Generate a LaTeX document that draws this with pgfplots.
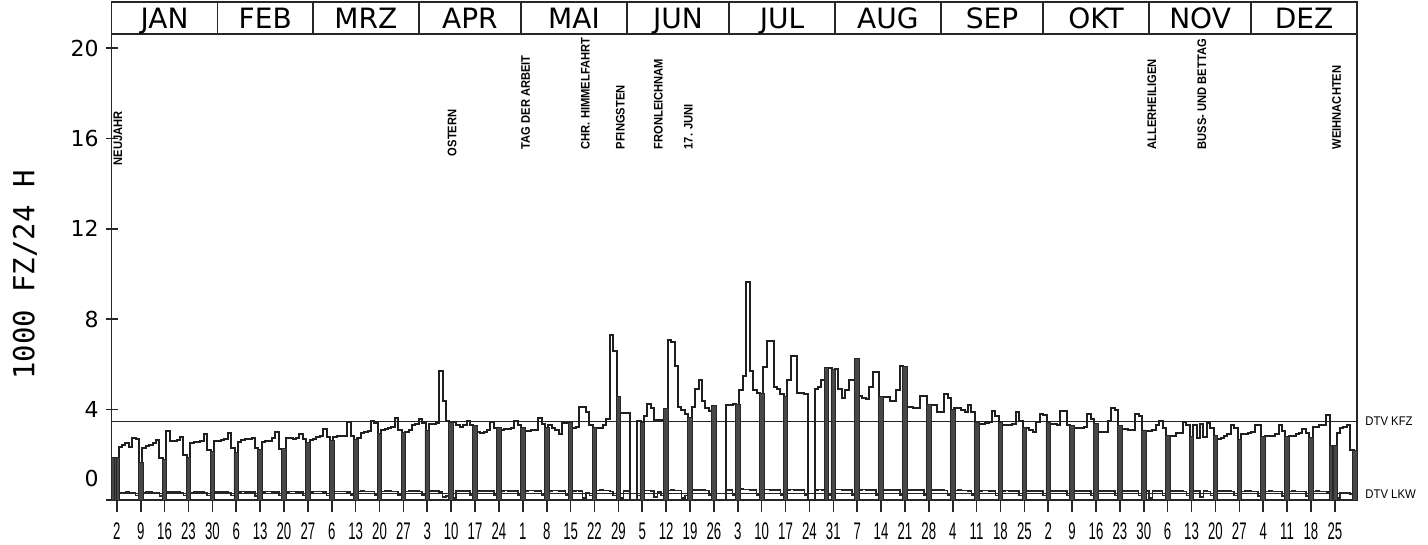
\documentclass[border=0pt]{standalone}
\usepackage{pgfplots}
\usepackage{pgfplotstable}
\pgfplotsset{compat=1.18}
\usepackage{fontspec}
\setmainfont{DejaVu Sans}
\newfontfamily\narrowfont[FakeStretch=0.55]{Liberation Sans}
\newfontfamily\holfont[FakeStretch=0.9]{Liberation Sans}
\newfontfamily\monofont{DejaVu Sans Mono}

\pgfplotstableread[row sep=\\]{
d kfz lkw\\
0.5 0 0.05\\ 1 0 0.05\\ 2 0 0.03\\
3 2.35 0.32\\ 4 2.45 0.34\\ 5 2.5 0.35\\ 6 2.35 0.34\\ 7 2.75 0.33\\ 8 2.7 0.2\\ 9 0 0.03\\
10 2.3 0.33\\ 11 2.4 0.35\\ 12 2.45 0.35\\ 13 2.5 0.34\\ 14 2.65 0.33\\ 15 1.85 0.18\\ 16 0 0.03\\
17 3.05 0.35\\ 18 2.6 0.36\\ 19 2.6 0.35\\ 20 2.65 0.35\\ 21 2.8 0.34\\ 22 2.0 0.2\\ 23 0 0.03\\
24 2.5 0.34\\ 25 2.55 0.36\\ 26 2.55 0.36\\ 27 2.6 0.35\\ 28 2.9 0.34\\ 29 2.2 0.2\\ 30 0 0.03\\
31 2.6 0.35\\ 32 2.6 0.36\\ 33 2.65 0.36\\ 34 2.7 0.36\\ 35 2.95 0.34\\ 36 2.3 0.2\\ 37 0 0.03\\
38 2.55 0.35\\ 39 2.65 0.37\\ 40 2.7 0.36\\ 41 2.7 0.36\\ 42 2.75 0.35\\ 43 2.3 0.19\\ 44 0 0.03\\
45 2.55 0.36\\ 46 2.6 0.37\\ 47 2.6 0.37\\ 48 2.75 0.36\\ 49 3.0 0.35\\ 50 2.25 0.2\\ 51 0 0.03\\
52 2.75 0.36\\ 53 2.75 0.37\\ 54 2.7 0.37\\ 55 2.75 0.36\\ 56 2.9 0.35\\ 57 2.7 0.2\\ 58 0 0.03\\
59 2.65 0.36\\ 60 2.7 0.37\\ 61 2.8 0.38\\ 62 2.85 0.37\\ 63 3.15 0.36\\ 64 2.8 0.2\\ 65 0 0.03\\
66 2.8 0.37\\ 67 2.85 0.38\\ 68 2.85 0.38\\ 69 2.85 0.37\\ 70 3.45 0.36\\ 71 2.85 0.21\\ 72 0 0.03\\
73 2.75 0.37\\ 74 2.95 0.39\\ 75 3.0 0.38\\ 76 3.05 0.38\\ 77 3.5 0.37\\ 78 3.4 0.21\\ 79 0 0.03\\
80 3.1 0.38\\ 81 3.15 0.39\\ 82 3.2 0.39\\ 83 3.25 0.38\\ 84 3.65 0.37\\ 85 3.1 0.21\\ 86 0 0.03\\
87 3.0 0.38\\ 88 3.1 0.4\\ 89 3.3 0.4\\ 90 3.35 0.39\\ 91 3.6 0.38\\ 92 3.4 0.22\\ 93 0 0.03\\
94 3.35 0.39\\ 95 3.35 0.4\\ 96 3.4 0.4\\ 97 5.7 0.36\\ 98 4.4 0.12\\ 99 3.5 0.18\\ 100 0 0.03\\
101 3.45 0.1\\ 102 3.3 0.41\\ 103 3.25 0.41\\ 104 3.3 0.4\\ 105 3.5 0.39\\ 106 3.3 0.22\\ 107 0 0.03\\
108 3.0 0.4\\ 109 2.95 0.41\\ 110 3.0 0.41\\ 111 3.1 0.4\\ 112 3.45 0.39\\ 113 3.2 0.22\\ 114 0 0.03\\
115 3.1 0.4\\ 116 3.15 0.42\\ 117 3.15 0.41\\ 118 3.2 0.41\\ 119 3.5 0.39\\ 120 3.3 0.22\\ 121 0 0.03\\
122 3.05 0.41\\ 123 3.05 0.42\\ 124 3.1 0.42\\ 125 3.1 0.41\\ 126 3.65 0.4\\ 127 3.35 0.22\\ 128 0 0.03\\
129 3.3 0.41\\ 130 3.2 0.42\\ 131 3.1 0.42\\ 132 2.9 0.41\\ 133 3.4 0.4\\ 134 3.4 0.22\\ 135 0 0.03\\
136 3.2 0.41\\ 137 3.25 0.42\\ 138 4.1 0.4\\ 139 4.1 0.1\\ 140 3.9 0.3\\ 141 3.3 0.2\\ 142 0 0.03\\
143 3.2 0.42\\ 144 3.2 0.43\\ 145 3.3 0.42\\ 146 3.6 0.42\\ 147 7.3 0.38\\ 148 6.6 0.2\\ 149 0 0.03\\
150 3.85 0.1\\ 151 3.85 0.4\\ 152 3.85 0.41\\ 153 0 0\\ 154 0 0\\ 155 3.5 0.2\\ 156 0 0.03\\
157 3.7 0.42\\ 158 4.25 0.42\\ 159 4.05 0.41\\ 160 3.55 0.12\\ 161 3.55 0.35\\ 162 3.55 0.2\\ 163 0 0.03\\
164 7.1 0.42\\ 165 7.0 0.43\\ 166 5.95 0.42\\ 167 4.1 0.42\\ 168 4.0 0.1\\ 169 3.8 0.2\\ 170 0 0.03\\
171 4.1 0.43\\ 172 4.9 0.44\\ 173 5.3 0.43\\ 174 4.4 0.43\\ 175 4.05 0.42\\ 176 3.95 0.22\\ 177 0 0.03\\
178 0 0\\ 179 0 0\\ 180 0 0\\ 181 4.2 0.44\\ 182 4.2 0.43\\ 183 4.25 0.22\\ 184 0 0.03\\
185 4.85 0.48\\ 186 5.5 0.47\\ 187 9.65 0.46\\ 188 5.7 0.45\\ 189 4.85 0.44\\ 190 4.75 0.23\\ 191 0 0.03\\
192 5.9 0.46\\ 193 7.05 0.46\\ 194 7.05 0.45\\ 195 5.0 0.45\\ 196 4.9 0.44\\ 197 4.7 0.23\\ 198 0 0.03\\
199 5.3 0.45\\ 200 6.35 0.46\\ 201 6.35 0.45\\ 202 4.75 0.45\\ 203 4.75 0.44\\ 204 4.7 0.22\\ 205 0 0.03\\
206 0 0\\ 207 4.9 0.45\\ 208 5.0 0.46\\ 209 5.3 0.45\\ 210 0 0.44\\ 211 5.85 0.22\\ 212 0 0.03\\
213 5.8 0.46\\ 214 4.9 0.46\\ 215 4.5 0.45\\ 216 4.85 0.45\\ 217 5.3 0.44\\ 218 5.3 0.22\\ 219 0 0.03\\
220 4.6 0.45\\ 221 4.5 0.46\\ 222 4.45 0.45\\ 223 5.0 0.45\\ 224 5.65 0.44\\ 225 5.65 0.22\\ 226 0 0.03\\
227 4.55 0.45\\ 228 4.55 0.45\\ 229 4.4 0.45\\ 230 4.4 0.44\\ 231 4.85 0.43\\ 232 5.95 0.22\\ 233 0 0.03\\
234 4.1 0.44\\ 235 4.1 0.45\\ 236 4.05 0.44\\ 237 4.05 0.44\\ 238 4.6 0.43\\ 239 4.6 0.21\\ 240 0 0.03\\
241 4.2 0.43\\ 242 4.2 0.44\\ 243 3.9 0.43\\ 244 3.9 0.43\\ 245 4.7 0.42\\ 246 4.5 0.21\\ 247 0 0.03\\
248 4.05 0.42\\ 249 4.05 0.43\\ 250 4.0 0.42\\ 251 3.9 0.42\\ 252 4.2 0.41\\ 253 3.9 0.21\\ 254 0 0.03\\
255 3.35 0.41\\ 256 3.35 0.42\\ 257 3.4 0.42\\ 258 3.45 0.41\\ 259 3.95 0.4\\ 260 3.7 0.2\\ 261 0 0.03\\
262 3.3 0.41\\ 263 3.3 0.42\\ 264 3.3 0.41\\ 265 3.35 0.41\\ 266 3.9 0.4\\ 267 3.5 0.2\\ 268 0 0.03\\
269 3.2 0.4\\ 270 3.1 0.41\\ 271 3.0 0.41\\ 272 3.45 0.4\\ 273 3.8 0.39\\ 274 3.75 0.2\\ 275 0 0.03\\
276 3.35 0.4\\ 277 3.35 0.41\\ 278 3.3 0.4\\ 279 3.95 0.4\\ 280 3.95 0.39\\ 281 3.3 0.2\\ 282 0 0.03\\
283 3.2 0.4\\ 284 3.2 0.41\\ 285 3.2 0.4\\ 286 3.25 0.4\\ 287 3.8 0.39\\ 288 3.6 0.2\\ 289 0 0.03\\
290 3.0 0.4\\ 291 3.0 0.41\\ 292 3.0 0.4\\ 293 3.5 0.4\\ 294 4.05 0.39\\ 295 4.0 0.2\\ 296 0 0.03\\
297 3.15 0.4\\ 298 3.15 0.41\\ 299 3.1 0.4\\ 300 3.1 0.4\\ 301 3.8 0.39\\ 302 3.7 0.2\\ 303 0 0.03\\
304 3.05 0.4\\ 305 3.05 0.1\\ 306 3.1 0.4\\ 307 3.3 0.4\\ 308 3.5 0.39\\ 309 3.2 0.2\\ 310 0 0.03\\
311 2.85 0.39\\ 312 2.85 0.4\\ 313 2.95 0.4\\ 314 2.95 0.39\\ 315 3.45 0.38\\ 316 3.3 0.2\\ 317 0 0.03\\
318 3.3 0.39\\ 319 2.75 0.4\\ 320 3.35 0.12\\ 321 2.8 0.39\\ 322 3.4 0.38\\ 323 3.2 0.2\\ 324 0 0.03\\
325 2.7 0.39\\ 326 2.75 0.4\\ 327 2.85 0.39\\ 328 2.9 0.39\\ 329 3.3 0.38\\ 330 3.2 0.2\\ 331 0 0.03\\
332 2.9 0.38\\ 333 2.9 0.39\\ 334 2.95 0.39\\ 335 3.0 0.38\\ 336 3.3 0.37\\ 337 3.3 0.19\\ 338 0 0.03\\
339 2.85 0.38\\ 340 2.85 0.39\\ 341 2.85 0.38\\ 342 2.9 0.38\\ 343 3.3 0.37\\ 344 3.05 0.19\\ 345 0 0.03\\
346 2.85 0.38\\ 347 2.85 0.39\\ 348 2.9 0.38\\ 349 2.95 0.38\\ 350 3.15 0.37\\ 351 2.95 0.19\\ 352 0 0.03\\
353 3.25 0.38\\ 354 3.25 0.39\\ 355 3.3 0.38\\ 356 3.3 0.37\\ 357 3.75 0.35\\ 358 0 0.1\\ 359 0 0.03\\
360 2.95 0.08\\ 361 3.2 0.3\\ 362 3.25 0.32\\ 363 3.3 0.3\\ 364 2.2 0.25\\ 365 0 0.08\\ 365.5 0 0.08\\
}\daily

\pgfplotstableread[row sep=\\]{
d v\\
1.15 1.9\\ 2 1.9\\ 9 1.65\\ 16 1.8\\ 23 1.9\\ 30 2.15\\ 37 2.1\\ 44 2.25\\ 51 2.3\\ 58 2.55\\
65 2.65\\ 72 2.7\\ 79 2.95\\ 86 3.0\\ 93 3.1\\ 100 3.45\\ 107 3.3\\ 114 3.2\\ 121 3.2\\ 128 3.2\\
135 3.45\\ 142 3.2\\ 149 4.6\\ 156 3.45\\ 163 4.05\\ 170 3.65\\ 177 4.2\\ 184 4.25\\ 191 4.7\\ 198 4.6\\
210 5.85\\ 212 5.8\\ 219 6.25\\ 226 4.6\\ 233 5.9\\ 240 4.25\\ 247 4.0\\ 254 3.45\\ 261 3.45\\ 268 3.2\\
275 3.45\\ 282 3.3\\ 289 3.4\\ 296 3.3\\ 303 3.1\\ 310 2.85\\ 317 2.8\\ 324 2.85\\ 331 2.7\\ 338 2.8\\
345 2.8\\ 352 2.75\\ 358 2.4\\ 359 2.4\\ 364.85 2.2\\
}\sundays

\begin{document}
\begin{tikzpicture}
\useasboundingbox (-55.85pt,-22.5pt) rectangle (658.15pt,250pt);
\begin{axis}[
  at={(0pt,0pt)}, anchor=south west,
  scale only axis, width=622.65pt, height=233pt,
  xmin=0.5, xmax=365.5, ymin=0, ymax=20.62,
  clip=false,
  axis line style={line width=0.8pt, black!85},
  xtick={2,9,...,359},
  xticklabels={2,9,16,23,30,6,13,20,27,6,13,20,27,3,10,17,24,1,8,15,22,29,5,12,19,26,3,10,17,24,31,7,14,21,28,4,11,18,25,2,9,16,23,30,6,13,20,27,4,11,18,25},
  xtick pos=bottom, xtick align=outside,
  ytick={0,4,8,12,16,20},
  yticklabels={\raisebox{22pt}{0},4,8,12,16,20},
  ytick pos=left, ytick align=center,
  major tick length=6pt,
  every tick/.style={black!85, line width=0.8pt},
  x tick label style={font=\narrowfont\fontsize{12}{12}\selectfont, yshift=-2pt},
  y tick label style={font=\fontsize{11}{11}\selectfont},
]
% DTV lines
\addplot[black!85, line width=0.7pt] coordinates {(0.5,3.48) (365.5,3.48)};
\addplot[black!85, line width=0.7pt] coordinates {(0.5,0.28) (365.5,0.28)};
% daily KFZ
\addplot[const plot mark mid, black!88, line width=1pt] table[x=d, y=kfz] {\daily};
% daily LKW
\addplot[const plot mark mid, black!85, line width=0.8pt] table[x=d, y=lkw] {\daily};
% Sundays / holidays
\addplot[ybar, bar width=1.35, bar shift=0pt, fill=black!72, draw=black!85, line width=0.4pt] table[x=d, y=v] {\sundays};

% month header
\draw[line width=0.8pt, black!85] (axis cs:0.5,20.62) rectangle (axis cs:365.5,22.04);
\pgfplotsinvokeforeach{31.5,59.5,90.5,120.5,151.5,181.5,212.5,243.5,273.5,304.5,334.5}{
  \draw[line width=0.8pt, black!85] (axis cs:#1,20.62) -- (axis cs:#1,22.04);
}
\begin{scope}[every node/.style={font=\fontsize{14}{14}\selectfont, inner sep=0pt, anchor=base}]
\node at (axis cs:16,20.86) {JAN};
\node at (axis cs:45.5,20.86) {FEB};
\node at (axis cs:75,20.86) {MRZ};
\node at (axis cs:105.5,20.86) {APR};
\node at (axis cs:136,20.86) {MAI};
\node at (axis cs:166.5,20.86) {JUN};
\node at (axis cs:197,20.86) {JUL};
\node at (axis cs:228,20.86) {AUG};
\node at (axis cs:258.5,20.86) {SEP};
\node at (axis cs:289,20.86) {OKT};
\node at (axis cs:319.5,20.86) {NOV};
\node at (axis cs:350,20.86) {DEZ};
\end{scope}

% holidays
\begin{scope}[every node/.style={font=\holfont\bfseries\fontsize{6.2}{6.2}\selectfont, rotate=90, anchor=west, inner sep=0pt}]
\node at (axis cs:2.3,14.8) {NEUJAHR};
\node at (axis cs:100.3,15.2) {OSTERN};
\node at (axis cs:121.8,15.5) {TAG DER ARBEIT};
\node at (axis cs:139.3,15.5) {CHR. HIMMELFAHRT};
\node at (axis cs:149.6,15.5) {PFINGSTEN};
\node at (axis cs:160.7,15.5) {FRONLEICHNAM};
\node at (axis cs:169.5,15.5) {17. JUNI};
\node at (axis cs:305.4,15.5) {ALLERHEILIGEN};
\node at (axis cs:320,15.5) {BUSS- UND BETTAG};
\node at (axis cs:359.5,15.5) {WEIHNACHTEN};
\end{scope}

\node[anchor=west, font=\holfont\fontsize{6.3}{6.3}\selectfont, inner sep=0pt, xshift=4pt] at (axis cs:365.5,3.48) {DTV KFZ};
\node[anchor=west, font=\holfont\fontsize{6.3}{6.3}\selectfont, inner sep=0pt, xshift=4pt] at (axis cs:365.5,0.28) {DTV LKW};
\end{axis}
\node[rotate=90, font=\monofont\fontsize{14.5}{14.5}\selectfont] at (-43.35pt,112.5pt) {1000 FZ/24 H};
\end{tikzpicture}
\end{document}
